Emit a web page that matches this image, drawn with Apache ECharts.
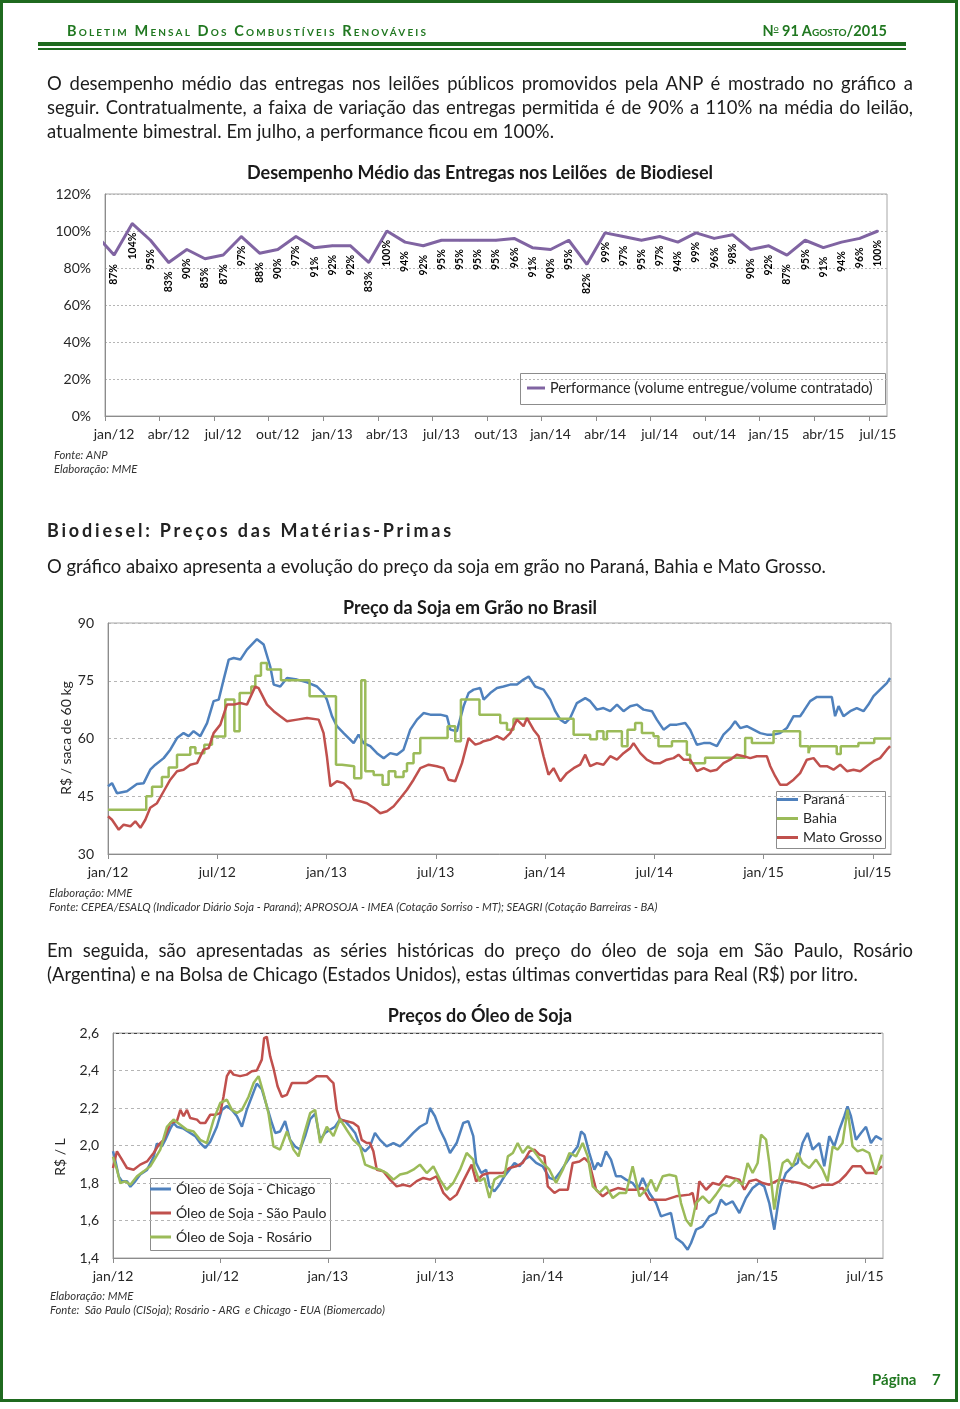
<!DOCTYPE html>
<html>
<head>
<meta charset="utf-8">
<script src="https://cdn.jsdelivr.net/npm/echarts@6/dist/echarts.min.js"></script>
<style>
html,body{margin:0;padding:0;background:#fff;}
#page{position:relative;width:960px;height:1409px;overflow:hidden;background:#fff;font-family:Lato,"Open Sans",sans-serif;color:#1c1c1c;}
#chart{position:absolute;left:0;top:0;width:960px;height:1409px;}
.t{position:absolute;white-space:nowrap;font-size:18px;line-height:24px;}
.frame{position:absolute;left:0;top:0;width:958px;height:1402px;box-sizing:border-box;border:3px solid #1f6a1f;}
.bar{position:absolute;background:#1f6a1f;}
.hdr{position:absolute;white-space:nowrap;font-weight:bold;font-size:14.5px;line-height:18px;color:#217821;font-variant:small-caps;}
.h2{position:absolute;white-space:nowrap;font-weight:bold;font-size:18px;line-height:24px;color:#222;}
.pg{position:absolute;white-space:nowrap;font-weight:bold;font-size:15px;line-height:20px;color:#217821;}
.sup{position:relative;top:-5px;font-size:9px;text-decoration:underline;}
</style>
</head>
<body>
<div id="page">
  <div id="chart"></div>
  <div class="frame"></div>
  <div class="bar" style="left:38px;top:42px;width:868px;height:4px;"></div>
  <div class="bar" style="left:38px;top:48px;width:868px;height:2px;"></div>
  <div class="hdr" id="hdrL" style="left:67px;top:22px;">Boletim Mensal Dos Combustíveis Renováveis</div>
  <div class="hdr" id="hdrR" style="right:73px;top:22px;">N<span class="sup">o</span> 91 Agosto/2015</div>

  <div class="t" id="p1a" style="left:47px;top:71px;">O desempenho médio das entregas nos leilões públicos promovidos pela ANP é mostrado no gráfico a</div>
  <div class="t" id="p1b" style="left:47px;top:95px;">seguir. Contratualmente, a faixa de variação das entregas permitida é de 90% a 110% na média do leilão,</div>
  <div class="t" id="p1c" style="left:47px;top:119px;">atualmente bimestral. Em julho, a performance ficou em 100%.</div>

  <div class="h2" id="sec" style="left:47px;top:518px;">Biodiesel: Preços das Matérias-Primas</div>
  <div class="t" id="p2" style="left:47px;top:554px;">O gráfico abaixo apresenta a evolução do preço da soja em grão no Paraná, Bahia e Mato Grosso.</div>

  <div class="t" id="p3a" style="left:47px;top:938px;">Em seguida, são apresentadas as séries históricas do preço do óleo de soja em São Paulo, Rosário</div>
  <div class="t" id="p3b" style="left:47px;top:962px;">(Argentina) e na Bolsa de Chicago (Estados Unidos), estas últimas convertidas para Real (R$) por litro.</div>

  <div class="pg" style="left:872px;top:1369px;">Página</div>
  <div class="pg" style="left:932px;top:1369px;">7</div>
</div>
<script>
// ---------------- Chart 1: Desempenho médio das entregas (monthly, jan/12 .. jul/15)
const perfLabels = ['jan/12','abr/12','jul/12','out/12','jan/13','abr/13','jul/13','out/13','jan/14','abr/14','jul/14','out/14','jan/15','abr/15','jul/15'];
const performance = [87,104,95,83,90,85,87,97,88,90,97,91,92,92,83,100,94,92,95,95,95,95,96,91,90,95,82,99,97,95,97,94,99,96,98,90,92,87,95,91,94,96,100];
const perfBefore = 98; // dez/11 (only its segment toward jan/12 is visible)
const perfName = 'Performance (volume entregue/volume contratado)';

// ---------------- Chart 2: Preço da soja em grão (x = months since jan/12)
const sojaLabels = ['jan/12','jul/12','jan/13','jul/13','jan/14','jul/14','jan/15','jul/15'];
const paranaPrice = [[0,47.6],[0.22,48.4],[0.49,45.8],[1.04,46.3],[1.59,48.2],[1.96,48.4],[2.32,51.9],[2.6,53.2],[3.06,54.9],[3.42,57.1],[3.79,60.1],[4.15,61.4],[4.43,60.6],[4.7,61.9],[5.07,60.6],[5.44,64.0],[5.8,69.7],[6.08,70.1],[6.35,75.3],[6.63,80.5],[6.9,80.9],[7.27,80.5],[7.63,83.1],[8.18,85.8],[8.55,84.4],[8.91,78.7],[9.1,74.0],[9.46,73.5],[9.83,75.7],[10.38,75.3],[10.93,74.6],[11.48,73.5],[11.84,71.8],[12.02,70.1],[12.3,65.8],[12.57,63.2],[12.94,61.4],[13.49,58.8],[13.76,61.0],[14.04,58.8],[14.4,58.0],[14.77,56.2],[15.14,54.9],[15.5,56.2],[15.87,55.8],[16.23,57.1],[16.6,62.3],[16.97,64.9],[17.33,66.6],[17.7,66.2],[18.25,66.2],[18.61,65.8],[18.8,62.3],[19.16,61.9],[19.53,68.4],[19.8,71.8],[20.08,72.7],[20.44,73.1],[20.63,70.1],[20.99,71.8],[21.36,73.1],[21.72,73.5],[22.09,74.0],[22.46,74.0],[22.82,75.3],[23.1,76.1],[23.46,73.5],[23.92,72.7],[24.29,70.1],[24.56,67.1],[24.84,64.9],[25.11,64.0],[25.38,65.3],[25.75,69.2],[26.21,70.5],[26.48,69.7],[26.85,67.5],[27.21,67.9],[27.58,67.1],[27.95,68.8],[28.31,67.1],[28.68,68.4],[29.04,68.8],[29.41,67.5],[29.87,67.1],[30.14,64.9],[30.51,62.3],[30.87,63.6],[31.24,63.6],[31.7,64.0],[31.97,62.3],[32.34,58.4],[32.71,58.8],[33.07,58.8],[33.44,58.0],[33.8,61.0],[34.17,62.7],[34.44,64.5],[34.72,62.7],[35.08,63.2],[35.45,62.3],[35.82,61.4],[36.18,61.0],[36.55,61.0],[36.91,61.4],[37.28,62.7],[37.65,65.8],[38.01,65.8],[38.2,67.1],[38.56,69.7],[38.93,70.8],[39.75,70.8],[39.93,65.8],[40.12,68.4],[40.39,65.8],[40.76,67.1],[41.12,67.9],[41.49,67.1],[41.76,68.8],[42.04,71.0],[42.4,72.7],[42.77,74.4],[42.95,75.7]];
const bahiaPrice = [[0,41.5],[2.1,45.0],[2.42,47.5],[2.96,50.0],[3.33,52.5],[3.79,55.8],[4.52,57.7],[4.8,56.2],[5.29,58.4],[5.71,60.5],[6.44,70.1],[6.94,61.9],[7.23,71.8],[7.87,73.5],[8.09,76.3],[8.4,79.6],[8.73,77.9],[9.5,75.1],[11.07,71.0],[12.52,53.2],[12.85,52.8],[13.52,49.7],[13.91,75.1],[14.13,51.5],[14.59,50.5],[15.08,48.0],[15.41,51.5],[15.78,50.0],[16.23,51.5],[16.42,53.6],[16.78,56.2],[17.15,60.1],[18.65,63.2],[19.07,59.3],[19.38,70.1],[20.4,66.2],[21.54,64.0],[21.91,62.3],[22.27,65.1],[25.57,61.0],[26.48,59.8],[26.85,61.9],[27.21,59.8],[27.4,61.9],[28.22,58.0],[28.53,62.3],[28.95,64.0],[29.32,61.4],[29.96,60.6],[30.23,58.0],[30.97,59.3],[31.79,55.8],[31.97,53.6],[32.79,55.0],[34.99,60.1],[35.36,58.8],[36.55,61.9],[38.01,58.0],[38.47,56.2],[38.56,58.0],[40.02,56.0],[40.24,58.0],[41.21,58.8],[42.08,60.0],[43,60.0]];
const matoGrossoPrice = [[0,39.8],[0.22,38.9],[0.59,36.3],[0.86,37.6],[1.23,37.2],[1.5,38.5],[1.78,36.8],[2.05,38.9],[2.32,42.0],[2.69,43.2],[3.06,46.3],[3.42,49.3],[3.79,51.5],[4.15,51.9],[4.52,53.2],[4.89,53.6],[5.25,57.1],[5.53,57.5],[5.8,61.4],[6.17,63.6],[6.53,68.8],[6.9,68.8],[7.27,69.2],[7.63,68.8],[8.09,73.5],[8.27,73.1],[8.73,68.8],[9.1,67.1],[9.46,65.8],[9.83,64.5],[10.38,64.9],[10.93,65.3],[11.57,64.9],[11.84,61.4],[12.02,55.4],[12.21,47.6],[12.57,48.9],[12.94,48.4],[13.31,46.7],[13.49,44.1],[13.85,43.7],[14.22,43.2],[14.59,42.0],[14.95,40.6],[15.32,41.1],[15.69,42.4],[16.05,44.5],[16.42,46.7],[16.78,49.3],[17.15,52.3],[17.61,53.2],[18.06,52.8],[18.43,52.3],[18.7,49.3],[19.07,48.9],[19.44,53.6],[19.8,60.1],[20.17,58.4],[20.44,58.8],[20.63,59.3],[20.99,59.7],[21.36,60.6],[21.72,59.7],[22.09,61.4],[22.46,64.9],[22.82,63.2],[23.01,65.3],[23.37,62.3],[23.65,60.6],[23.92,55.4],[24.19,50.6],[24.47,52.3],[24.84,48.9],[25.2,51.0],[25.57,52.3],[25.93,53.2],[26.21,55.8],[26.48,52.8],[26.85,53.6],[27.21,53.2],[27.58,55.4],[27.95,54.5],[28.31,56.2],[28.68,57.5],[28.86,58.8],[29.23,56.2],[29.59,54.5],[29.96,53.6],[30.33,53.6],[30.69,54.5],[31.06,54.9],[31.33,55.8],[31.61,54.5],[31.97,54.5],[32.34,51.5],[32.71,52.3],[33.07,51.5],[33.44,51.9],[33.8,53.6],[34.17,54.5],[34.53,55.8],[34.9,55.4],[35.27,54.9],[35.63,55.4],[36.18,55.4],[36.37,52.8],[36.64,50.2],[36.91,48.0],[37.28,48.0],[37.65,49.3],[38.01,51.0],[38.38,54.5],[38.75,54.9],[39.11,52.8],[39.48,52.8],[39.84,51.9],[40.21,53.2],[40.58,51.5],[40.94,51.9],[41.31,51.5],[41.67,52.8],[42.04,54.1],[42.4,54.9],[42.77,57.1],[42.95,58.0]];

// ---------------- Chart 3: Preços do óleo de soja (x = months since jan/12)
const oleoLabels = ['jan/12','jul/12','jan/13','jul/13','jan/14','jul/14','jan/15','jul/15'];
const chicagoOil = [[0,1.969],[0.13,1.92],[0.32,1.835],[0.5,1.81],[0.78,1.81],[0.97,1.78],[1.25,1.81],[1.52,1.845],[1.9,1.87],[2.27,1.94],[2.45,2.01],[2.73,1.995],[2.92,2.03],[3.2,2.09],[3.38,2.12],[3.57,2.10],[3.94,2.09],[4.31,2.067],[4.59,2.05],[4.87,2.013],[5.15,1.987],[5.43,2.02],[5.8,2.10],[6.08,2.19],[6.36,2.21],[6.64,2.19],[6.92,2.156],[7.2,2.10],[7.47,2.19],[7.75,2.26],[8.03,2.33],[8.31,2.30],[8.59,2.21],[8.87,2.12],[9.06,2.067],[9.33,2.075],[9.61,2.13],[9.89,2.03],[10.17,1.995],[10.45,1.978],[10.73,2.05],[11.01,2.14],[11.29,2.17],[11.57,2.03],[11.84,2.067],[12.12,2.084],[12.4,2.10],[12.68,2.14],[12.96,2.13],[13.24,2.10],[13.52,2.067],[13.8,1.995],[14.08,1.969],[14.35,1.995],[14.63,2.067],[14.91,2.03],[15.28,1.995],[15.66,2.013],[16.03,1.995],[16.4,2.03],[16.77,2.067],[17.14,2.10],[17.52,2.12],[17.7,2.20],[17.98,2.156],[18.26,2.084],[18.54,2.03],[18.82,1.96],[19.19,2.013],[19.56,2.12],[19.84,2.13],[20.12,2.05],[20.28,1.907],[20.56,1.853],[20.84,1.871],[21.02,1.782],[21.3,1.756],[21.58,1.791],[21.86,1.836],[22.14,1.871],[22.42,1.907],[22.7,1.889],[22.98,1.925],[23.26,1.942],[23.63,1.907],[24.0,1.889],[24.37,1.827],[24.65,1.818],[24.93,1.853],[25.3,1.907],[25.67,1.96],[25.95,1.995],[26.14,2.075],[26.33,2.058],[26.6,1.96],[26.88,1.871],[27.07,1.907],[27.26,1.889],[27.53,1.969],[27.81,1.925],[28.09,1.836],[28.37,1.836],[28.65,1.818],[29.02,1.80],[29.3,1.764],[29.58,1.827],[29.95,1.747],[30.33,1.693],[30.6,1.622],[30.88,1.631],[31.16,1.64],[31.44,1.507],[31.81,1.48],[32.09,1.444],[32.28,1.48],[32.56,1.551],[32.93,1.569],[33.3,1.622],[33.67,1.64],[33.95,1.711],[34.23,1.684],[34.6,1.702],[34.98,1.64],[35.35,1.72],[35.72,1.773],[36.09,1.80],[36.37,1.782],[36.65,1.693],[36.93,1.551],[37.12,1.676],[37.3,1.782],[37.58,1.853],[37.95,1.889],[38.23,1.907],[38.51,2.013],[38.79,2.067],[39.07,1.978],[39.44,2.013],[39.72,1.889],[40.0,2.05],[40.28,1.995],[40.56,2.084],[40.84,2.156],[41.02,2.209],[41.21,2.156],[41.49,2.031],[41.77,2.067],[42.05,2.10],[42.33,2.013],[42.6,2.05],[42.94,2.031]];
const saoPauloOil = [[0,1.88],[0.22,1.969],[0.5,1.925],[0.78,1.88],[1.15,1.871],[1.52,1.898],[1.9,1.915],[2.27,1.96],[2.55,2.004],[2.83,2.03],[3.2,2.12],[3.57,2.13],[3.76,2.19],[3.94,2.156],[4.13,2.19],[4.31,2.147],[4.69,2.138],[4.87,2.12],[5.15,2.12],[5.43,2.164],[5.71,2.164],[5.99,2.173],[6.17,2.26],[6.36,2.37],[6.55,2.40],[6.73,2.378],[7.1,2.37],[7.47,2.378],[7.75,2.396],[8.03,2.40],[8.31,2.458],[8.44,2.573],[8.59,2.58],[8.78,2.475],[8.96,2.413],[9.19,2.316],[9.43,2.26],[9.71,2.27],[9.99,2.333],[10.26,2.333],[10.82,2.333],[11.1,2.35],[11.38,2.37],[11.94,2.37],[12.12,2.35],[12.31,2.333],[12.5,2.19],[12.68,2.138],[13.05,2.13],[13.42,2.12],[13.7,2.10],[13.89,2.03],[14.17,2.013],[14.35,2.013],[14.54,1.969],[14.73,1.871],[15.1,1.862],[15.47,1.818],[15.84,1.782],[16.21,1.791],[16.59,1.782],[16.96,1.81],[17.33,1.827],[17.7,1.818],[18.07,1.836],[18.45,1.747],[18.82,1.71],[19.19,1.738],[19.56,1.81],[20.03,1.898],[20.28,1.809],[20.65,1.844],[21.02,1.853],[21.4,1.853],[21.77,1.853],[22.14,1.88],[22.51,1.889],[22.88,1.907],[23.26,1.969],[23.53,1.978],[23.81,1.951],[24.09,1.942],[24.28,1.782],[24.65,1.747],[24.93,1.764],[25.4,1.764],[25.67,1.907],[26.05,1.915],[26.33,1.933],[26.6,1.907],[26.98,1.764],[27.35,1.729],[27.72,1.756],[28.19,1.773],[28.65,1.764],[29.21,1.764],[29.58,1.773],[29.95,1.711],[30.33,1.711],[30.88,1.711],[31.44,1.729],[32.19,1.738],[32.37,1.747],[32.56,1.658],[32.74,1.809],[33.12,1.764],[33.49,1.80],[33.86,1.791],[34.23,1.836],[34.6,1.827],[34.98,1.818],[35.26,1.764],[35.53,1.809],[35.91,1.818],[36.28,1.80],[36.65,1.791],[37.21,1.818],[37.77,1.809],[38.33,1.80],[38.7,1.791],[39.07,1.773],[39.63,1.791],[40.19,1.791],[40.56,1.809],[40.93,1.844],[41.3,1.889],[41.77,1.889],[42.05,1.853],[42.51,1.853],[42.94,1.889]];
const rosarioOil = [[0,1.94],[0.22,1.871],[0.41,1.80],[0.69,1.809],[0.97,1.791],[1.34,1.836],[1.71,1.862],[2.08,1.889],[2.36,1.933],[2.64,1.978],[3.01,2.10],[3.38,2.138],[3.76,2.111],[4.13,2.084],[4.5,2.075],[4.87,2.03],[5.24,2.013],[5.62,2.138],[5.99,2.227],[6.36,2.244],[6.64,2.19],[6.92,2.173],[7.2,2.19],[7.57,2.26],[7.85,2.333],[8.13,2.37],[8.4,2.28],[8.68,2.173],[8.96,1.995],[9.33,1.978],[9.71,2.075],[10.08,1.978],[10.36,1.942],[10.64,2.05],[11.01,2.173],[11.29,2.19],[11.57,2.013],[11.94,2.10],[12.31,2.05],[12.68,2.14],[13.05,2.084],[13.42,2.03],[13.8,1.995],[14.08,1.898],[14.54,1.88],[14.91,1.871],[15.28,1.853],[15.66,1.818],[16.03,1.845],[16.4,1.853],[16.77,1.871],[17.14,1.898],[17.52,1.853],[17.89,1.889],[18.26,1.818],[18.63,1.764],[19.0,1.80],[19.38,1.871],[19.75,1.96],[20.12,1.925],[20.19,1.88],[20.47,1.809],[20.74,1.827],[21.02,1.72],[21.3,1.818],[21.58,1.836],[21.86,1.836],[22.05,1.942],[22.33,1.96],[22.6,2.013],[22.88,1.96],[23.16,1.995],[23.44,1.978],[23.72,1.942],[24.0,1.907],[24.37,1.871],[24.74,1.80],[25.12,1.871],[25.49,1.96],[25.86,1.942],[26.23,2.013],[26.51,1.942],[26.79,1.782],[27.16,1.747],[27.53,1.782],[27.91,1.72],[28.28,1.747],[28.65,1.747],[29.02,1.889],[29.4,1.729],[29.77,1.764],[30.05,1.818],[30.33,1.756],[30.7,1.836],[31.07,1.844],[31.44,1.836],[31.72,1.693],[32.0,1.604],[32.28,1.569],[32.56,1.693],[32.93,1.729],[33.3,1.693],[33.67,1.738],[34.05,1.791],[34.42,1.782],[34.79,1.818],[35.16,1.791],[35.44,1.907],[35.72,1.853],[36.0,1.907],[36.19,2.058],[36.47,2.031],[36.65,1.907],[36.93,1.658],[37.12,1.782],[37.4,1.907],[37.67,1.925],[37.95,1.889],[38.23,1.96],[38.51,1.907],[38.88,1.88],[39.26,1.925],[39.63,1.871],[39.91,1.809],[40.19,1.995],[40.47,1.978],[40.74,2.013],[41.02,2.191],[41.3,1.995],[41.58,1.969],[41.86,1.978],[42.23,1.96],[42.6,1.844],[42.94,1.951]];

// ---------------- colours
const C_PURPLE = '#8064A2', C_BLUE = '#4F81BD', C_RED = '#C0504D', C_GREEN = '#9BBB59';
const AX = '#8c8c8c', LBL = '#262626', FONT = 'Lato, "Open Sans", sans-serif';

const chart = echarts.init(document.getElementById('chart'), null, {renderer: 'canvas'});

const perfData = [{value: [-1, perfBefore], label: {show: false}, symbol: 'none'}]
  .concat(performance.map((v, i) => [i, v]));

const tick1 = []; for (let k = 0; k <= 14; k++) tick1.push(-0.5 + 3 * k);
const lab1 = perfLabels.map((_, k) => 3 * k);
const lab2 = sojaLabels.map((_, k) => 6 * k);
const lab3 = oleoLabels.map((_, k) => 6 * k);

function baseX(grid, min, max, ticks, labs, names) {
  return {
    type: 'value', gridIndex: grid, min: min, max: max,
    axisLine: {show: true, onZero: false, lineStyle: {color: AX, width: 1}},
    axisTick: {show: true, customValues: ticks, length: 5, inside: false, lineStyle: {color: AX}},
    axisLabel: {customValues: labs, color: LBL, fontSize: 14, fontFamily: FONT, margin: 11,
      formatter: v => names[labs.indexOf(Math.round(v * 10) / 10)] || ''},
    splitLine: {show: false}
  };
}
function baseY(grid, min, max, interval, fmt, dash) {
  return {
    type: 'value', gridIndex: grid, min: min, max: max, interval: interval,
    axisLine: {show: true, onZero: false, lineStyle: {color: AX, width: 1}},
    axisTick: {show: false},
    axisLabel: {color: LBL, fontSize: 14, fontFamily: FONT, margin: 14, formatter: fmt},
    splitLine: {show: true, lineStyle: {color: '#b5b5b5', width: 1, type: dash}}
  };
}

const SRC = 'italic 11.3px ' + FONT;
const TTL = 'bold 18px ' + FONT;

const option = {
  animation: false,
  textStyle: {fontFamily: FONT},
  grid: [
    {left: 105, top: 194, width: 782, height: 222, show: true, borderColor: '#a6a6a6', borderWidth: 1, outerBoundsMode: 'none', containLabel: false},
    {left: 108, top: 623, width: 783, height: 231, show: true, borderColor: '#a6a6a6', borderWidth: 1, outerBoundsMode: 'none', containLabel: false},
    {left: 113, top: 1033, width: 770, height: 225, show: true, borderColor: '#a6a6a6', borderWidth: 1, outerBoundsMode: 'none', containLabel: false}
  ],
  xAxis: [
    baseX(0, -0.5, 42.5, tick1, lab1, perfLabels),
    baseX(1, 0, 43, lab2, lab2, sojaLabels),
    baseX(2, 0, 43, lab3, lab3, oleoLabels)
  ],
  yAxis: [
    baseY(0, 0, 120, 20, v => v + '%', [2, 2]),
    baseY(1, 30, 90, 15, v => String(v), [3, 3]),
    baseY(2, 1.4, 2.6, 0.2, v => v.toFixed(1).replace('.', ','), [3, 3])
  ],
  legend: [
    {data: [perfName], left: 527, top: 380, orient: 'horizontal', icon: 'rect', itemWidth: 18, itemHeight: 3, padding: 0,
      textStyle: {fontSize: 14.4, color: LBL, fontFamily: FONT, lineHeight: 16}},
    {data: ['Paraná', 'Bahia', 'Mato Grosso'], left: 777, top: 791, orient: 'vertical', icon: 'rect', itemWidth: 21, itemHeight: 3, itemGap: 2, padding: 0,
      textStyle: {fontSize: 14, color: LBL, fontFamily: FONT, lineHeight: 17}},
    {data: ['Óleo de Soja - Chicago', 'Óleo de Soja - São Paulo', 'Óleo de Soja - Rosário'], left: 150, top: 1180, orient: 'vertical', icon: 'rect', itemWidth: 21, itemHeight: 3, itemGap: 6, padding: 0,
      textStyle: {fontSize: 14, color: LBL, fontFamily: FONT, lineHeight: 18}}
  ],
  series: [
    {type: 'line', name: perfName, xAxisIndex: 0, yAxisIndex: 0, data: perfData, clip: true,
      symbol: 'circle', symbolSize: 2, showSymbol: true,
      lineStyle: {color: C_PURPLE, width: 3}, itemStyle: {color: C_PURPLE},
      label: {show: true, position: 'bottom', rotate: 90, align: 'right', verticalAlign: 'middle', distance: 8,
        fontSize: 10.5, fontWeight: 'bold', color: '#000', fontFamily: FONT,
        formatter: p => p.value[1] + '%'}},
    {type: 'line', name: 'Paraná', xAxisIndex: 1, yAxisIndex: 1, data: paranaPrice, symbol: 'none', showSymbol: false,
      lineStyle: {color: C_BLUE, width: 2.5}, itemStyle: {color: C_BLUE}},
    {type: 'line', name: 'Bahia', xAxisIndex: 1, yAxisIndex: 1, data: bahiaPrice, symbol: 'none', showSymbol: false, step: 'end',
      lineStyle: {color: C_GREEN, width: 2.5}, itemStyle: {color: C_GREEN}},
    {type: 'line', name: 'Mato Grosso', xAxisIndex: 1, yAxisIndex: 1, data: matoGrossoPrice, symbol: 'none', showSymbol: false,
      lineStyle: {color: C_RED, width: 2.5}, itemStyle: {color: C_RED}},
    {type: 'line', name: 'Óleo de Soja - Chicago', xAxisIndex: 2, yAxisIndex: 2, data: chicagoOil, symbol: 'none', showSymbol: false,
      lineStyle: {color: C_BLUE, width: 2.5}, itemStyle: {color: C_BLUE}},
    {type: 'line', name: 'Óleo de Soja - São Paulo', xAxisIndex: 2, yAxisIndex: 2, data: saoPauloOil, symbol: 'none', showSymbol: false,
      lineStyle: {color: C_RED, width: 2.5}, itemStyle: {color: C_RED}},
    {type: 'line', name: 'Óleo de Soja - Rosário', xAxisIndex: 2, yAxisIndex: 2, data: rosarioOil, symbol: 'none', showSymbol: false,
      lineStyle: {color: C_GREEN, width: 2.5}, itemStyle: {color: C_GREEN}}
  ],
  graphic: [
    // titles
    {type: 'text', x: 480, y: 173, style: {text: 'Desempenho Médio das Entregas nos Leilões  de Biodiesel', fill: '#1a1a1a', font: TTL, textAlign: 'center', textVerticalAlign: 'middle'}},
    {type: 'text', x: 470, y: 608, style: {text: 'Preço da Soja em Grão no Brasil', fill: '#1a1a1a', font: TTL, textAlign: 'center', textVerticalAlign: 'middle'}},
    {type: 'text', x: 480, y: 1016, style: {text: 'Preços do Óleo de Soja', fill: '#1a1a1a', font: TTL, textAlign: 'center', textVerticalAlign: 'middle'}},
    // legend boxes
    {type: 'rect', shape: {x: 520.5, y: 373.5, width: 365, height: 31}, style: {fill: '#fff', stroke: '#8c8c8c', lineWidth: 1}, z: -1},
    {type: 'rect', shape: {x: 776.5, y: 791.5, width: 109, height: 57}, style: {fill: '#fff', stroke: '#8c8c8c', lineWidth: 1}, z: -1},
    {type: 'rect', shape: {x: 150.5, y: 1178.5, width: 180, height: 72}, style: {fill: '#fff', stroke: '#8c8c8c', lineWidth: 1}, z: -1},
    // darker top border of oil chart
    {type: 'line', shape: {x1: 113, y1: 1033.5, x2: 883, y2: 1033.5}, style: {stroke: '#404040', lineWidth: 1}},
    // axis names
    {type: 'text', x: 66, y: 738, rotation: Math.PI / 2, style: {text: 'R$ / saca de 60 kg', fill: LBL, font: '14px ' + FONT, textAlign: 'center', textVerticalAlign: 'middle'}},
    {type: 'text', x: 60, y: 1157, rotation: Math.PI / 2, style: {text: 'R$ / L', fill: LBL, font: '14px ' + FONT, textAlign: 'center', textVerticalAlign: 'middle'}},
    // sources
    {type: 'text', x: 54, y: 455, style: {text: 'Fonte: ANP', fill: '#333', font: SRC, textAlign: 'left', textVerticalAlign: 'middle'}},
    {type: 'text', x: 54, y: 469, style: {text: 'Elaboração: MME', fill: '#333', font: SRC, textAlign: 'left', textVerticalAlign: 'middle'}},
    {type: 'text', x: 49, y: 893, style: {text: 'Elaboração: MME', fill: '#333', font: SRC, textAlign: 'left', textVerticalAlign: 'middle'}},
    {type: 'text', x: 49, y: 907, style: {text: 'Fonte: CEPEA/ESALQ (Indicador Diário Soja - Paraná); APROSOJA - IMEA (Cotação Sorriso - MT); SEAGRI (Cotação Barreiras - BA)', fill: '#333', font: SRC, textAlign: 'left', textVerticalAlign: 'middle'}},
    {type: 'text', x: 50, y: 1296, style: {text: 'Elaboração: MME', fill: '#333', font: SRC, textAlign: 'left', textVerticalAlign: 'middle'}},
    {type: 'text', x: 50, y: 1310, style: {text: 'Fonte:  São Paulo (CISoja); Rosário - ARG  e Chicago - EUA (Biomercado)', fill: '#333', font: SRC, textAlign: 'left', textVerticalAlign: 'middle'}}
  ]
};
chart.setOption(option);

// ---------------- fit the page text lines to the widths of the reference layout
function natWidth(el) {
  el.style.wordSpacing = '0px'; el.style.letterSpacing = '0px';
  return el.getBoundingClientRect().width;
}
function fitWords(id, w) {
  const el = document.getElementById(id);
  const nat = natWidth(el);
  const n = (el.textContent.match(/ /g) || []).length;
  if (n) el.style.wordSpacing = ((w - nat) / n).toFixed(2) + 'px';
}
function fitLetters(id, w) {
  const el = document.getElementById(id);
  const nat = natWidth(el);
  const n = el.textContent.length;
  el.style.letterSpacing = ((w - nat) / n).toFixed(2) + 'px';
}
function fitAll() {
  // choose the body font size from the free (last) lines
  const free = [['p1c', 507], ['p2', 779], ['p3b', 811]];
  const lines = document.querySelectorAll('.t');
  lines.forEach(el => { el.style.fontSize = '18px'; });
  let r = 0;
  free.forEach(([id, w]) => { r += w / natWidth(document.getElementById(id)); });
  const fs = (18 * r / free.length).toFixed(2);
  lines.forEach(el => { el.style.fontSize = fs + 'px'; });
  fitWords('p1a', 866); fitWords('p1b', 866); fitWords('p1c', 507);
  fitWords('p2', 779);
  fitWords('p3a', 866); fitWords('p3b', 811);
  fitLetters('sec', 407);
  fitLetters('hdrL', 361);
}
fitAll();
if (document.fonts && document.fonts.ready) document.fonts.ready.then(fitAll);
</script>
</body>
</html>
